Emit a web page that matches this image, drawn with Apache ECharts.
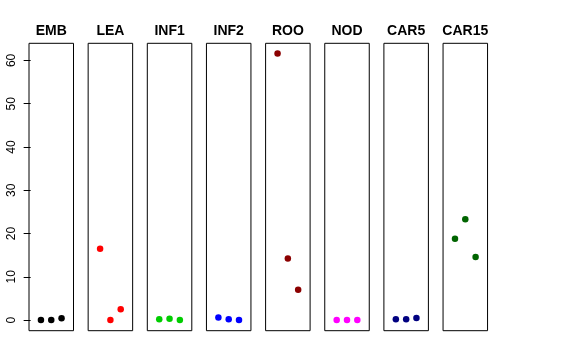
<!DOCTYPE html>
<html><head><meta charset="utf-8">
<script src="https://cdn.jsdelivr.net/npm/echarts@6/dist/echarts.min.js"></script>
<style>html,body{margin:0;padding:0;background:#fff}#c{width:576px;height:360px}</style>
</head><body><div id="c"></div>
<script>
const panels = ["EMB","LEA","INF1","INF2","ROO","NOD","CAR5","CAR15"];
const colors = ["#000000","#FF0000","#00CD00","#0000FF","#8B0000","#FF00FF","#000080","#006400"];
const xPos = [1, 2, 3];
const EMB = [0.0, 0.0, 0.4];
const LEA = [16.5, 0.0, 2.5];
const INF1 = [0.2, 0.3, 0.0];
const INF2 = [0.6, 0.2, 0.0];
const ROO = [61.6, 14.2, 7.0];
const NOD = [0.0, 0.0, 0.0];
const CAR5 = [0.2, 0.2, 0.5];
const CAR15 = [18.8, 23.3, 14.6];
const values = [EMB, LEA, INF1, INF2, ROO, NOD, CAR5, CAR15];
const yTicks = [0, 10, 20, 30, 40, 50, 60];

const chart = echarts.init(document.getElementById('c'), null, {renderer:'canvas'});
const grids = [], xAxes = [], yAxes = [], series = [];
const gLeft = 29, gStep = 59.15, gW = 44.5, gTop = 43.3, gH = 287.4;
const font = "Liberation Sans, Arial, Helvetica, sans-serif";
panels.forEach((p, i) => {
  const left = gLeft + i * gStep;
  grids.push({left: left, top: gTop, width: gW, height: gH, show: true,
    borderColor: '#000', borderWidth: 1, backgroundColor: 'transparent', containLabel: false});
  xAxes.push({type: 'value', gridIndex: i, min: -0.16, max: 4.16, show: true, position: 'top',
    name: p, nameLocation: 'middle', nameGap: 5,
    nameTextStyle: {fontSize: 14, fontWeight: 'bold', color: '#000', fontFamily: font},
    axisLine: {show: false}, axisTick: {show: false}, axisLabel: {show: false}, splitLine: {show: false}});
  yAxes.push({type: 'value', gridIndex: i, min: -2.46, max: 63.96, show: i === 0,
    splitLine: {show: false},
    axisLine: {show: false},
    axisTick: {show: true, length: 7, inside: false, customValues: yTicks, lineStyle: {color: '#000'}},
    axisLabel: {show: true, rotate: 90, margin: 11, fontSize: 12, color: '#000', fontFamily: font, customValues: yTicks}
  });
  series.push({type: 'scatter', xAxisIndex: i, yAxisIndex: i, symbol: 'circle', symbolSize: 6.5,
    itemStyle: {color: colors[i], opacity: 1},
    data: xPos.map((x, k) => [x, values[i][k]]), silent: true, animation: false});
});
chart.setOption({animation: false, backgroundColor: '#fff',
  grid: grids, xAxis: xAxes, yAxis: yAxes, series: series});
</script></body></html>
